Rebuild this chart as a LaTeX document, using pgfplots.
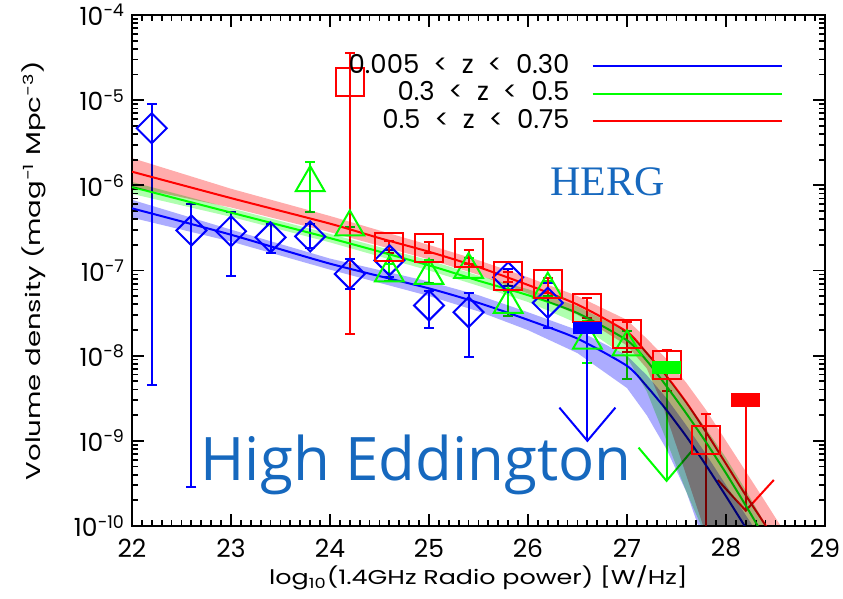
\documentclass[border=0pt]{standalone}
\usepackage{pgfplots}
\usepackage{pgfplotstable}
\pgfplotsset{compat=1.18}
\usepackage{fontspec}
\setmainfont{Poppins}
\newfontfamily\lblfont{Poppins}[FakeStretch=1.27]
\newfontfamily\ylblfont{Poppins}[FakeStretch=1.38]
\newfontfamily\hefont{Open Sans}
\newfontfamily\serfont{Liberation Serif}
\definecolor{txtblue}{RGB}{22,104,190}
\definecolor{bandblue}{RGB}{172,172,255}
\definecolor{bandgreen}{RGB}{175,255,175}
\definecolor{bandred}{RGB}{255,172,172}
\newcommand\gap{\hspace{7pt}}

% log10 values: x, y, lower end, upper end of error bar
\pgfplotstableread{
x y lo hi
22.2 -5.33 -8.34 -5.04
22.6 -6.53 -9.54 -6.22
23.0 -6.54 -7.07 -6.31
23.4 -6.61 -6.80 -6.45
23.8 -6.60 -6.74 -6.45
24.2 -7.04 -7.22 -6.86
24.6 -6.88 -7.08 -6.76
25.0 -7.41 -7.67 -7.24
25.4 -7.49 -8.02 -7.26
25.8 -7.08 -7.18 -6.98
26.2 -7.38 -7.67 -7.15
}\blueData
\pgfplotstableread{
x y lo hi
23.8 -5.97 -6.31 -5.73
24.2 -6.49 -6.49 -6.49
24.6 -7.03 -7.12 -6.92
25.0 -7.06 -7.15 -6.88
25.4 -6.99 -7.09 -6.85
25.8 -7.40 -7.53 -7.24
26.2 -7.22 -7.30 -7.12
26.6 -7.82 -8.09 -7.59
27.0 -7.90 -8.27 -7.71
}\greenData
\pgfplotstableread{
x y lo hi
24.2 -4.79 -7.75 -4.45
24.6 -6.72 -6.80 -6.65
25.0 -6.73 -6.80 -6.67
25.4 -6.79 -6.92 -6.76
25.8 -7.07 -7.14 -7.02
26.2 -7.16 -7.26 -7.09
26.6 -7.44 -7.56 -7.32
27.0 -7.75 -7.96 -7.61
27.4 -8.11 -8.41 -7.93
27.8 -8.99 -10.5 -8.68
}\redData

\begin{document}
\begin{tikzpicture}
\path[use as bounding box] (-66pt,-36.5pt) rectangle (355.5pt,263pt);
\begin{axis}[
  at={(0,0)}, anchor=south west,
  scale only axis, width=346.5pt, height=255.5pt,
  xmin=22, xmax=29, ymin=-10, ymax=-4,
  xtick={22,23,...,29}, minor x tick num=9,
  xticklabels={22,23,24,25,26,27,28,29},
  ytick={-10,-9,...,-4},
  yticklabels={10\textsuperscript{−10},10\textsuperscript{−9},10\textsuperscript{−8},10\textsuperscript{−7},10\textsuperscript{−6},10\textsuperscript{−5},10\textsuperscript{−4}},
  minor ytick={-9.699,-9.523,-9.398,-9.301,-9.222,-9.155,-9.097,-9.046,
               -8.699,-8.523,-8.398,-8.301,-8.222,-8.155,-8.097,-8.046,
               -7.699,-7.523,-7.398,-7.301,-7.222,-7.155,-7.097,-7.046,
               -6.699,-6.523,-6.398,-6.301,-6.222,-6.155,-6.097,-6.046,
               -5.699,-5.523,-5.398,-5.301,-5.222,-5.155,-5.097,-5.046,
               -4.699,-4.523,-4.398,-4.301,-4.222,-4.155,-4.097,-4.046},
  tick align=inside, major tick length=6pt, minor tick length=3pt,
  tick style={black, line width=0.9pt},
  axis line style={black, line width=1.1pt},
  ticklabel style={font=\fontsize{12.5}{14}\selectfont},
  xticklabel style={anchor=center, yshift=-11pt},
  xlabel={\lblfont log\textsubscript{10}(1.4GHz Radio power) [W/Hz]},
  ylabel={\ylblfont Volume density (mag\textsuperscript{−1} Mpc\textsuperscript{−3})},
  label style={font=\fontsize{12.5}{14}\selectfont},
  every axis x label/.style={at={(axis description cs:0.5,0)}, yshift=-26pt, anchor=center},
  every axis y label/.style={at={(axis description cs:0,0.5)}, xshift=-49pt, rotate=90, anchor=center},
  legend plot pos=right,
  legend cell align=right,
  legend image code/.code={\draw[#1, line width=1pt] (0pt,0pt) -- (94.5pt,0pt);},
  legend style={draw=none, fill=none, at={(axis description cs:0.948,0.9335)}, anchor=north east,
    font=\fontsize{13}{15}\selectfont, row sep=0.75pt, column sep=10pt,
    nodes={inner sep=1pt, text height=9pt, text depth=2pt}},
  error bars/error bar style={line width=1pt},
  error bars/error mark options={line width=1pt, mark size=2.5pt, rotate=90},
]
% ---- data points with error bars
\addplot[blue, only marks, mark=square, mark size=5.3pt, mark options={rotate=45, line width=1pt},
  error bars/.cd, y dir=both, y explicit]
  table[x=x, y=y, y error plus expr=\thisrow{hi}-\thisrow{y}, y error minus expr=\thisrow{y}-\thisrow{lo}] {\blueData};
\addplot[green, only marks, mark=triangle, mark size=8.3pt, mark options={line width=1pt},
  error bars/.cd, y dir=both, y explicit]
  table[x=x, y=y, y error plus expr=\thisrow{hi}-\thisrow{y}, y error minus expr=\thisrow{y}-\thisrow{lo}] {\greenData};
\addplot[red, only marks, mark=square, mark size=7pt, mark options={line width=1pt},
  error bars/.cd, y dir=both, y explicit]
  table[x=x, y=y, y error plus expr=\thisrow{hi}-\thisrow{y}, y error minus expr=\thisrow{y}-\thisrow{lo}] {\redData};
% ---- upper limits
\addplot[blue, line width=1pt, forget plot] coordinates {(26.6,-7.67) (26.6,-9.0)};
\addplot[blue, line width=1pt, forget plot] coordinates {(26.317,-8.61) (26.6,-9.0) (26.883,-8.61)};
\addplot[blue, only marks, mark=square*, mark size=7pt, mark options={yscale=0.4}, forget plot] coordinates {(26.6,-7.67)};
\addplot[green, line width=1pt, forget plot] coordinates {(27.4,-8.14) (27.4,-9.47)};
\addplot[green, line width=1pt, forget plot] coordinates {(27.117,-9.08) (27.4,-9.47) (27.683,-9.08)};
\addplot[green, only marks, mark=square*, mark size=7pt, mark options={yscale=0.42}, forget plot] coordinates {(27.4,-8.14)};
\addplot[red, line width=1pt, forget plot] coordinates {(28.2,-8.52) (28.2,-9.82)};
\addplot[red, line width=1pt, forget plot] coordinates {(27.917,-9.46) (28.2,-9.82) (28.483,-9.46)};
\addplot[red, only marks, mark=square*, mark size=7pt, mark options={yscale=0.46}, forget plot] coordinates {(28.2,-8.52)};
% ---- fitted luminosity functions
\addplot[blue, line width=1pt, smooth, tension=0.4] coordinates {
 (22,-6.27) (23,-6.58) (24,-6.92) (25,-7.21) (25.5,-7.38) (26,-7.58) (26.5,-7.80) (27,-8.12)
 (27.2,-8.36) (27.4,-8.64) (27.6,-8.95) (27.8,-9.29) (28.0,-9.65) (28.2,-10.02) (28.3,-10.2)};
\addlegendentry{0.005\gap<\gap z\gap<\gap 0.30}
\addplot[green, line width=1pt, smooth, tension=0.4] coordinates {
 (22,-6.02) (23,-6.32) (24,-6.62) (25,-6.94) (25.5,-7.12) (26,-7.29) (26.5,-7.50) (27,-7.82)
 (27.2,-8.06) (27.4,-8.36) (27.6,-8.68) (27.8,-9.02) (28.0,-9.38) (28.2,-9.76) (28.33,-10.02) (28.4,-10.2)};
\addlegendentry{0.3\gap<\gap z\gap<\gap 0.5}
\addplot[red, line width=1pt, smooth, tension=0.4] coordinates {
 (22,-5.84) (23,-6.15) (24,-6.45) (24.5,-6.62) (25,-6.78) (25.5,-6.96) (26,-7.17) (26.5,-7.40)
 (27,-7.72) (27.2,-7.97) (27.4,-8.24) (27.6,-8.55) (27.8,-8.90) (28.0,-9.27) (28.2,-9.64) (28.42,-10.03) (28.5,-10.2)};
\addlegendentry{0.5\gap<\gap z\gap<\gap 0.75}
% ---- uncertainty bands (multiplied over everything)
\addplot[draw=none, fill=bandblue, blend mode=multiply, forget plot] coordinates {
 (22,-6.17) (23,-6.52) (24,-6.86) (25,-7.13) (25.5,-7.29) (26,-7.49) (26.5,-7.70) (27,-8.0)
 (27.2,-8.23) (27.4,-8.5) (27.6,-8.82) (27.8,-9.16) (28.0,-9.52) (28.3,-10.05) (28.4,-10.3)
 (27.8,-10.3) (27.72,-10.0) (27.6,-9.6) (27.4,-9.1) (27.2,-8.7) (27.0,-8.38) (26.5,-7.97)
 (26,-7.70) (25.5,-7.48) (25,-7.30) (24,-6.99) (23,-6.66) (22,-6.38)} --cycle;
\addplot[draw=none, fill=bandgreen, blend mode=multiply, forget plot] coordinates {
 (22,-5.96) (23,-6.27) (24,-6.57) (25,-6.88) (25.5,-7.06) (26,-7.22) (26.5,-7.42) (27,-7.72)
 (27.2,-7.95) (27.4,-8.24) (27.6,-8.54) (27.8,-8.86) (28.0,-9.2) (28.2,-9.58) (28.42,-10.02) (28.55,-10.3)
 (27.85,-10.3) (27.75,-10.0) (27.6,-9.6) (27.4,-9.0) (27.2,-8.42) (27.0,-8.02) (26.5,-7.62)
 (26,-7.37) (25.5,-7.18) (25,-7.0) (24,-6.67) (23,-6.37) (22,-6.1)} --cycle;
\addplot[draw=none, fill=bandred, blend mode=multiply, forget plot] coordinates {
 (22,-5.68) (23,-6.04) (24,-6.36) (25,-6.70) (25.5,-6.88) (26,-7.08) (26.5,-7.30) (27,-7.58)
 (27.2,-7.8) (27.4,-8.04) (27.6,-8.32) (27.8,-8.64) (28.0,-9.0) (28.2,-9.36) (28.4,-9.72) (28.58,-10.05) (28.7,-10.3)
 (27.85,-10.3) (27.77,-10.0) (27.5,-9.06) (27.36,-8.58) (27.2,-8.15) (27.0,-7.88) (26.5,-7.52)
 (26,-7.27) (25.5,-7.05) (25,-6.87) (24,-6.55) (23,-6.26) (22,-6.02)} --cycle;
% ---- annotations
\node[font=\serfont\fontsize{21}{24}\selectfont, text=txtblue, anchor=center] at (axis cs:26.8,-5.96) {HERG};
\node[font=\hefont\fontsize{30}{34}\selectfont, text=txtblue, anchor=base west, inner sep=0pt] at (axis cs:22.69,-9.47) {High Eddington};
\end{axis}
\end{tikzpicture}
\end{document}
